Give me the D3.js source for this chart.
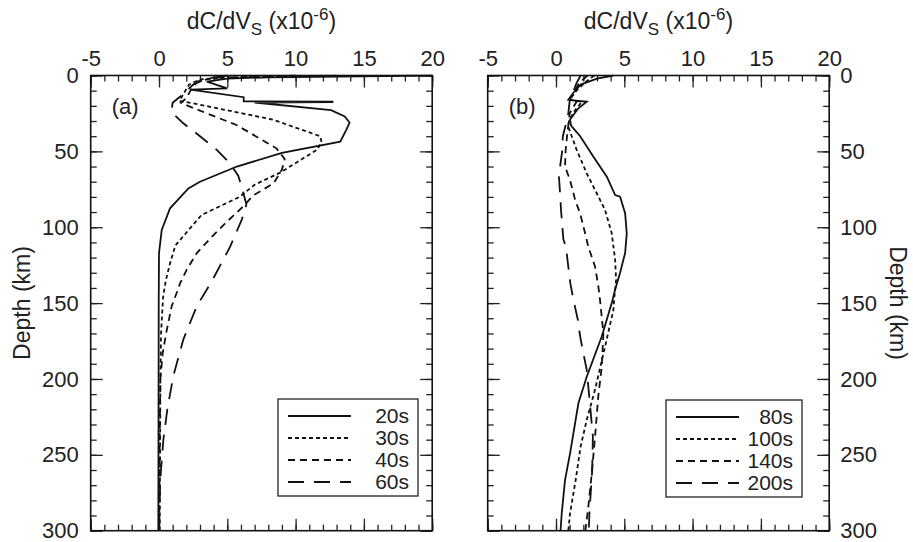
<!DOCTYPE html>
<html>
  <head>
    <script src="https://d3js.org/d3.v7.min.js"></script>
    <style>
      body { margin: 0; background: #fff; }
      text { font-family: "Liberation Sans", Arial, sans-serif; fill: #222; }
      .tick line { stroke: #222; stroke-width: 1.3; }
      .tick text { font-size: 22px; }
      .curve { fill: none; stroke: #111; stroke-width: 1.8; }
    </style>
  </head>
  <body>
    <div id="chart"></div>
    <script>
      // [depth km, dC/dVs x1e-6]
      const a20s = [[0, 20], [1.2, 8], [2, 5.0], [4, 3.5], [8.5, 5.0], [9.3, 2.3], [14.3, 6.2], [17.0, 6.2], [17.2, 12.7], [17.6, 12.7], [17.8, 7.0], [22.8, 12.6], [27, 13.6], [31, 13.95], [36, 13.7], [43.6, 13.27], [51, 9.0], [60, 5.7], [70, 3.0], [74.4, 2.15], [87.5, 0.81], [101.8, 0.2], [117, 0.0], [150, -0.02], [200, -0.03], [300, -0.05]];
      const a30s = [[0, 13], [1, 6], [2.5, 3.0], [6, 2.2], [12, 1.8], [16.8, 1.5], [18, 2.3], [29, 8.3], [40, 11.8], [44, 11.9], [49, 11.56], [64, 8.87], [72, 7.0], [80, 5.9], [92, 3.1], [102, 2.15], [112, 1.2], [124, 0.8], [135, 0.5], [146, 0.3], [170, 0.15], [200, 0.1], [250, 0.08], [300, 0.05]];
      const a40s = [[0, 10], [1.5, 4], [4, 2.8], [10, 2.3], [15, 2.0], [18, 1.6], [21.4, 2.5], [32.6, 5.67], [48, 8.6], [55, 9.2], [62, 9.0], [71, 8.4], [79, 6.9], [86, 6.2], [97, 4.9], [106, 3.9], [117, 2.77], [128, 2.03], [137, 1.54], [146, 1.18], [152, 0.93], [170, 0.52], [183, 0.27], [200, 0.1], [250, 0.04], [300, 0.02]];
      const a60s = [[0, 5], [2, 3.5], [6, 2.5], [12, 1.8], [18, 1.0], [24, 0.9], [31.5, 1.78], [40, 3.0], [49, 4.23], [58, 5.2], [66, 5.8], [75, 6.1], [85, 6.4], [95, 6.06], [113, 5.2], [135, 3.9], [152, 2.77], [174, 1.78], [198, 1.05], [220, 0.61], [240, 0.32], [262, 0.13], [280, 0.04], [300, 0.0]];

      const b80s = [[0, 4.2], [2, 3.0], [6, 1.8], [11, 1.3], [16, 0.9], [17.3, 2.25], [22, 1.6], [29, 1.03], [33, 1.1], [40, 1.77], [53.5, 2.74], [66.7, 3.72], [78.8, 4.33], [79.9, 4.69], [90.8, 5.06], [104, 5.18], [117, 5.06], [130, 4.69], [141, 4.33], [150, 4.08], [172, 3.35], [198.5, 2.25], [216, 1.64], [249, 1.03], [266.6, 0.66], [288.5, 0.42], [300, 0.33]];
      const b100s = [[0, 2.8], [4, 2.2], [10, 1.5], [16, 1.0], [17.3, 1.9], [24, 1.3], [30, 0.95], [33.7, 0.9], [49, 1.51], [64.5, 2.25], [77.6, 2.98], [88.6, 3.59], [104, 4.08], [121.6, 4.33], [134.8, 4.4], [148, 4.25], [154.6, 4.2], [178.7, 3.59], [207, 2.86], [227, 2.25], [244.6, 1.8], [266.6, 1.44], [288.5, 1.03], [300, 0.9]];
      const b140s = [[0, 2.3], [5, 1.7], [16, 1.0], [17.3, 1.5], [25, 1.0], [33, 0.9], [38, 0.83], [50, 0.7], [60, 0.66], [69, 1.03], [82, 1.4], [91, 1.77], [104, 2.13], [113, 2.37], [126, 2.86], [139, 3.1], [146, 3.2], [170, 3.47], [192, 3.35], [211, 3.1], [238, 2.86], [262, 2.62], [284, 2.37], [300, 2.15]];
      const b200s = [[0, 1.8], [5, 1.5], [17, 1.0], [25, 0.9], [33, 0.7], [40, 0.5], [50, 0.45], [60, 0.3], [67, 0.22], [78, 0.3], [89, 0.37], [108, 0.54], [113, 0.73], [126, 0.9], [137, 1.05], [148, 1.28], [161, 1.6], [172, 1.77], [183, 2.0], [194, 2.25], [218, 2.5], [238, 2.7], [260, 2.65], [288, 2.45], [300, 2.4]];

      const labelsA = ["20s", "30s", "40s", "60s"];
      const labelsB = ["80s", "100s", "140s", "200s"];
      const dashes = [null, "4,3", "7,5", "16,10"];
      const xTicks = d3.range(-5, 21, 5);
      const depthTicks = d3.range(0, 301, 50);

      const W = 913, H = 542;
      const yTop = 75.5, yBot = 530.7, pw = 341.5;
      const svg = d3.select("#chart").append("svg").attr("width", W).attr("height", H);

      const y = d3.scaleLinear().domain([0, 300]).range([yTop, yBot]);

      function panel(left, series, labels, tag, side, legend) {
        const x = d3.scaleLinear().domain([-5, 20]).range([left, left + pw]);
        const g = svg.append("g");

        // minor ticks
        g.append("g").attr("transform", `translate(0,${yTop})`)
          .call(d3.axisTop(x).tickValues(d3.range(-5, 21)).tickSize(-6).tickFormat(""));
        g.append("g").attr("transform", `translate(0,${yBot})`)
          .call(d3.axisBottom(x).tickValues(d3.range(-5, 21)).tickSize(-6).tickFormat(""));
        g.append("g").attr("transform", `translate(${left},0)`)
          .call(d3.axisLeft(y).tickValues(d3.range(0, 301, 10)).tickSize(-6).tickFormat(""));
        g.append("g").attr("transform", `translate(${left + pw},0)`)
          .call(d3.axisRight(y).tickValues(d3.range(0, 301, 10)).tickSize(-6).tickFormat(""));
        // major ticks
        g.append("g").attr("transform", `translate(0,${yTop})`)
          .call(d3.axisTop(x).tickValues(xTicks).tickSize(-12).tickPadding(10).tickFormat(d3.format("d")));
        g.append("g").attr("transform", `translate(0,${yBot})`)
          .call(d3.axisBottom(x).tickValues(xTicks).tickSize(-12).tickFormat(""));
        g.append("g").attr("transform", `translate(${left},0)`)
          .call(d3.axisLeft(y).tickValues(depthTicks).tickSize(-12).tickPadding(12)
            .tickFormat(side === "left" ? d3.format("d") : ""));
        g.append("g").attr("transform", `translate(${left + pw},0)`)
          .call(d3.axisRight(y).tickValues(depthTicks).tickSize(-12).tickPadding(11)
            .tickFormat(side === "right" ? d3.format("d") : ""));
        g.selectAll(".domain").remove();
        g.selectAll(".tick text").text(function () { return this.textContent.replace("−", "-"); });

        g.append("rect").attr("x", left).attr("y", yTop).attr("width", pw).attr("height", yBot - yTop)
          .attr("fill", "none").attr("stroke", "#111").attr("stroke-width", 1.6);

        const line = d3.line().x((d) => x(d[1])).y((d) => y(d[0]));
        const clip = "clip" + tag;
        svg.append("clipPath").attr("id", clip).append("rect")
          .attr("x", left).attr("y", yTop - 1).attr("width", pw).attr("height", yBot - yTop + 2);
        series.forEach((s, i) => {
          g.append("path").datum(s).attr("class", "curve").attr("d", line)
            .attr("clip-path", `url(#${clip})`)
            .attr("stroke-dasharray", dashes[i]);
        });

        // title
        const t = g.append("text").attr("x", left + pw / 2).attr("y", 29)
          .attr("text-anchor", "middle").style("font-size", "23px");
        t.append("tspan").text("dC/dV");
        t.append("tspan").attr("dy", 6).style("font-size", "17px").text("S");
        t.append("tspan").attr("dy", -6).text(" (x10");
        t.append("tspan").attr("dy", -9).style("font-size", "17px").text("-6");
        t.append("tspan").attr("dy", 9).text(")");

        g.append("text").attr("x", left + 21).attr("y", 114).style("font-size", "22px").text(`(${tag})`);

        // legend
        const lg = g.append("g");
        lg.append("rect").attr("x", legend.x).attr("y", legend.y).attr("width", legend.w).attr("height", 97)
          .attr("fill", "#fff").attr("stroke", "#111").attr("stroke-width", 1.2);
        labels.forEach((lab, i) => {
          const ly = legend.y + 17 + i * 22;
          lg.append("line").attr("x1", legend.x + 10).attr("x2", legend.x + 73)
            .attr("y1", ly).attr("y2", ly).attr("class", "curve")
            .attr("stroke-dasharray", dashes[i]);
          lg.append("text").attr("x", legend.x + legend.w - 9).attr("y", ly + 7)
            .attr("text-anchor", "end").style("font-size", "21px").text(lab);
        });
      }

      panel(90.7, [a20s, a30s, a40s, a60s], labelsA, "a", "left", { x: 278, y: 399, w: 140 });
      panel(487.7, [b80s, b100s, b140s, b200s], labelsB, "b", "right", { x: 666, y: 400, w: 136 });

      svg.append("text").attr("transform", `translate(30,303) rotate(-90)`)
        .attr("text-anchor", "middle").style("font-size", "23px").text("Depth (km)");
      svg.append("text").attr("transform", `translate(890,303) rotate(90)`)
        .attr("text-anchor", "middle").style("font-size", "23px").text("Depth (km)");
    </script>
  </body>
</html>
